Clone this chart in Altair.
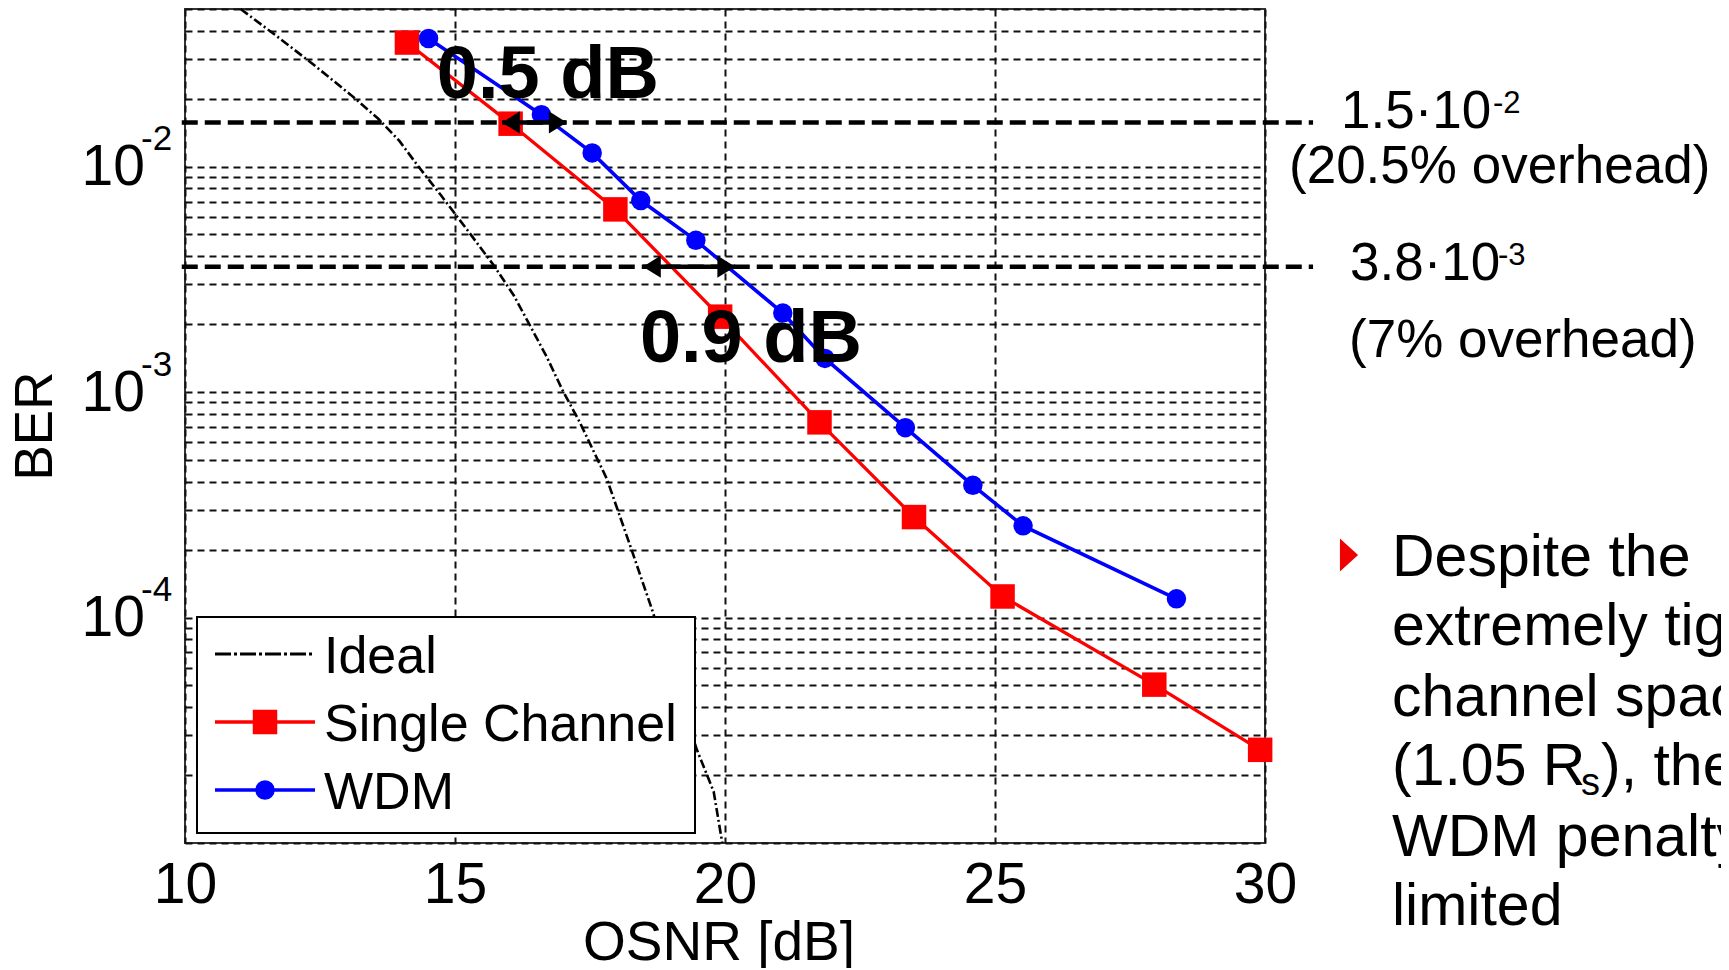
import altair as alt
import pandas as pd

# ---------------- data ----------------
osnr_single = [14.11, 16.03, 17.97, 19.91, 21.75, 23.50, 25.14, 27.95, 29.91]
ber_single = [3.55e-2, 1.55e-2, 6.46e-3, 2.16e-3, 7.34e-4, 2.79e-4, 1.24e-4, 5.04e-5, 2.59e-5]

osnr_wdm = [14.51, 16.60, 17.54, 18.44, 19.46, 21.07, 21.85, 23.34, 24.59, 25.52, 28.36]
ber_wdm = [3.70e-2, 1.70e-2, 1.15e-2, 7.07e-3, 4.71e-3, 2.24e-3, 1.41e-3, 6.95e-4, 3.86e-4, 2.55e-4, 1.21e-4]

osnr_ideal = [11.03, 11.68, 12.39, 13.07, 13.58, 13.97, 14.31, 14.74, 15.25, 15.72, 16.09,
              16.40, 16.70, 16.99, 17.31, 17.81, 18.23, 18.64, 19.48, 19.79, 19.91, 19.95]
ber_ideal = [5.0e-2, 3.82e-2, 2.82e-2, 2.08e-2, 1.63e-2, 1.30e-2, 1.01e-2, 7.46e-3, 5.15e-3, 3.64e-3, 2.68e-3,
             1.95e-3, 1.43e-3, 1.02e-3, 7.35e-4, 4.13e-4, 2.13e-4, 1.10e-4, 2.59e-5, 1.69e-5, 1.14e-5, 1.0e-5]

x_ticks = [10, 15, 20, 25, 30]
y_decades = [1e-2, 1e-3, 1e-4]
y_exponents = ["-2", "-3", "-4"]
y_grid = [m * 10.0 ** e for e in (-5, -4, -3) for m in range(1, 10)] + [m * 1e-2 for m in (1, 2, 3, 4, 5)]

# FEC thresholds (line positions as drawn) and their labels
thr_ber = [1.57e-2, 3.6e-3]
thr_osnr_span = [9.94, 30.89]
thr_base = ["1.5·10", "3.8·10"]
thr_exp = ["-2", "-3"]
thr_note = ["(20.5% overhead)", "(7% overhead)"]

# penalty arrows and labels
arrow_from = [15.87, 18.48]
arrow_to = [17.07, 20.19]
penalty_text = ["0.5 dB", "0.9 dB"]
penalty_osnr = [16.72, 20.48]
penalty_ber = [2.01e-2, 1.36e-3]

legend_labels = ["Ideal", "Single Channel", "WDM"]
bullet_lines = ["Despite the", "extremely tight", "channel spacing", None, "WDM penalty", "limited"]

# ---------------- styling ----------------
FONT = "Liberation Sans"
RED = "#FF0000"
BLUE = "#0000FF"
W, H = 1080, 834

xscale = alt.Scale(domain=[10, 30], nice=False, zero=False)
yscale = alt.Scale(type="log", domain=[1e-5, 5e-2], nice=False)

GRID = dict(grid=True, gridDash=[7, 5], gridColor="#111111", gridWidth=2, gridOpacity=1)
xaxis = alt.Axis(values=x_ticks, domain=False, ticks=False, tickSize=0, labelFontSize=57,
                 labelFont=FONT, labelColor="#000000", labelPadding=59, labelBaseline="alphabetic",
                 labelFlush=False, labelOverlap=False, title=None, format="d", **GRID)
yaxis = alt.Axis(values=y_grid, domain=False, ticks=False, labels=False, title=None, **GRID)


def X(field="osnr"):
    return alt.X(f"{field}:Q", scale=xscale, axis=xaxis)


def Y(field="ber"):
    return alt.Y(f"{field}:Q", scale=yscale, axis=yaxis)


one = pd.DataFrame({"d": [0]})

df_single = pd.DataFrame({"osnr": osnr_single, "ber": ber_single})
df_wdm = pd.DataFrame({"osnr": osnr_wdm, "ber": ber_wdm})
df_ideal = pd.DataFrame({"osnr": osnr_ideal, "ber": ber_ideal})
df_thr = pd.DataFrame({"ber": thr_ber, "x1": [thr_osnr_span[0]] * 2, "x2": [thr_osnr_span[1]] * 2})
df_arr = pd.DataFrame({"x1": arrow_from, "x2": arrow_to, "ber": thr_ber})
df_pen = pd.DataFrame({"osnr": penalty_osnr, "ber": penalty_ber, "t": penalty_text})
df_dec = pd.DataFrame({"ber": y_decades, "e": y_exponents})

layers = []

# ideal curve
layers.append(alt.Chart(df_ideal).mark_line(color="#000000", strokeWidth=2.6, strokeDash=[9, 3, 2, 3])
              .encode(x=X(), y=Y()))
# single channel
layers.append(alt.Chart(df_single).mark_line(color=RED, strokeWidth=3.3).encode(x=X(), y=Y()))
layers.append(alt.Chart(df_single).mark_point(shape="square", filled=True, size=600, color=RED, opacity=1)
              .encode(x=X(), y=Y()))
# WDM
layers.append(alt.Chart(df_wdm).mark_line(color=BLUE, strokeWidth=3.6).encode(x=X(), y=Y()))
layers.append(alt.Chart(df_wdm).mark_circle(size=380, color=BLUE, opacity=1).encode(x=X(), y=Y()))

# threshold lines
layers.append(alt.Chart(df_thr).mark_rule(color="#000000", strokeWidth=4.5, strokeDash=[16, 7])
              .encode(x=X("x1"), x2="x2:Q", y=Y()))
# arrows
layers.append(alt.Chart(df_arr).mark_rule(color="#000000", strokeWidth=4.5)
              .encode(x=X("x1"), x2="x2:Q", y=Y()))
layers.append(alt.Chart(df_arr).mark_point(shape="M 0 0 L 1.6 -1 L 1.6 1 Z", filled=True, size=500,
                                           color="#000000", opacity=1)
              .encode(x=X("x1"), y=Y()))
layers.append(alt.Chart(df_arr).mark_point(shape="M 0 0 L -1.6 -1 L -1.6 1 Z", filled=True, size=500,
                                           color="#000000", opacity=1)
              .encode(x=X("x2"), y=Y()))
# penalty labels
layers.append(alt.Chart(df_pen).mark_text(font=FONT, fontSize=74, fontWeight="bold", color="#000000",
                                          align="center", baseline="alphabetic")
              .encode(x=X(), y=Y(), text="t:N"))

# y tick labels 10^e
layers.append(alt.Chart(df_dec).mark_text(font=FONT, fontSize=57, color="#000000", align="right",
                                          baseline="alphabetic", dy=18.5, text="10")
              .encode(x=alt.value(-40), y=Y()))
layers.append(alt.Chart(df_dec).mark_text(font=FONT, fontSize=35, color="#000000", align="left",
                                          baseline="alphabetic", dy=-16.5)
              .encode(x=alt.value(-44), y=Y(), text="e:N"))

# axis titles
layers.append(alt.Chart(one).mark_text(font=FONT, fontSize=53, color="#000000", angle=270,
                                       align="center", baseline="middle", text="BER")
              .encode(x=alt.value(-149), y=alt.value(417)))
layers.append(alt.Chart(one).mark_text(font=FONT, fontSize=55, color="#000000",
                                       align="center", baseline="alphabetic", text="OSNR [dB]")
              .encode(x=alt.value(534), y=alt.value(951)))

# legend
layers.append(alt.Chart(one).mark_rect(fill="#FFFFFF", stroke="#000000", strokeWidth=2)
              .encode(x=alt.value(12), x2=alt.value(510), y=alt.value(608), y2=alt.value(824)))
leg_rows = [645, 713, 781]
layers.append(alt.Chart(one).mark_rule(color="#000000", strokeWidth=3.2, strokeDash=[16, 3, 3, 3])
              .encode(x=alt.value(30), x2=alt.value(130), y=alt.value(leg_rows[0])))
layers.append(alt.Chart(one).mark_rule(color=RED, strokeWidth=3.3)
              .encode(x=alt.value(30), x2=alt.value(130), y=alt.value(leg_rows[1])))
layers.append(alt.Chart(one).mark_point(shape="square", filled=True, size=600, color=RED, opacity=1)
              .encode(x=alt.value(80), y=alt.value(leg_rows[1])))
layers.append(alt.Chart(one).mark_rule(color=BLUE, strokeWidth=3.6)
              .encode(x=alt.value(30), x2=alt.value(130), y=alt.value(leg_rows[2])))
layers.append(alt.Chart(one).mark_circle(size=380, color=BLUE, opacity=1)
              .encode(x=alt.value(80), y=alt.value(leg_rows[2])))
for lab, yy in zip(legend_labels, leg_rows):
    layers.append(alt.Chart(one).mark_text(font=FONT, fontSize=52, color="#000000", align="left",
                                           baseline="alphabetic", text=lab)
                  .encode(x=alt.value(139), y=alt.value(yy + 19)))

# threshold labels (outside the plot)
thr_pos = [(1156, 119, 1308, 104, 1104, 174), (1165, 271, 1313, 256, 1164, 348)]
for (bx, by, ex, ey, nx, ny), b, e, n in zip(thr_pos, thr_base, thr_exp, thr_note):
    layers.append(alt.Chart(one).mark_text(font=FONT, fontSize=53, color="#000000", align="left",
                                           baseline="alphabetic", text=b)
                  .encode(x=alt.value(bx), y=alt.value(by)))
    layers.append(alt.Chart(one).mark_text(font=FONT, fontSize=31, color="#000000", align="left",
                                           baseline="alphabetic", text=e)
                  .encode(x=alt.value(ex), y=alt.value(ey)))
    layers.append(alt.Chart(one).mark_text(font=FONT, fontSize=53, color="#000000", align="left",
                                           baseline="alphabetic", text=n)
                  .encode(x=alt.value(nx), y=alt.value(ny)))

# bullet text
layers.append(alt.Chart(one).mark_point(shape="M -0.55 -1 L 0.55 0 L -0.55 1 Z", filled=True, size=1089,
                                        color="#F00000", opacity=1)
              .encode(x=alt.value(1164), y=alt.value(546)))
bullet_base = [567, 636, 707, 776, 847, 916]
for line, yy in zip(bullet_lines, bullet_base):
    if line is None:
        continue
    layers.append(alt.Chart(one).mark_text(font=FONT, fontSize=59, color="#000000", align="left",
                                           baseline="alphabetic", text=line)
                  .encode(x=alt.value(1207), y=alt.value(yy)))
# "(1.05 Rs), the" with subscript s
layers.append(alt.Chart(one).mark_text(font=FONT, fontSize=59, color="#000000", align="left",
                                       baseline="alphabetic", text="(1.05 R")
              .encode(x=alt.value(1207), y=alt.value(bullet_base[3])))
layers.append(alt.Chart(one).mark_text(font=FONT, fontSize=38, color="#000000", align="left",
                                       baseline="alphabetic", text="s")
              .encode(x=alt.value(1396), y=alt.value(bullet_base[3] + 10)))
layers.append(alt.Chart(one).mark_text(font=FONT, fontSize=59, color="#000000", align="left",
                                       baseline="alphabetic", text="), the")
              .encode(x=alt.value(1416), y=alt.value(bullet_base[3])))

chart = (
    alt.layer(*layers)
    .properties(width=W, height=H,
                autosize=alt.AutoSizeParams(type="none"),
                padding={"left": 177, "top": 1, "right": 456, "bottom": 125},
                background="#FFFFFF")
    .configure_view(stroke="#333333", strokeWidth=2)
)

chart.save("out.html", embed_options={"renderer": "svg", "actions": False})
